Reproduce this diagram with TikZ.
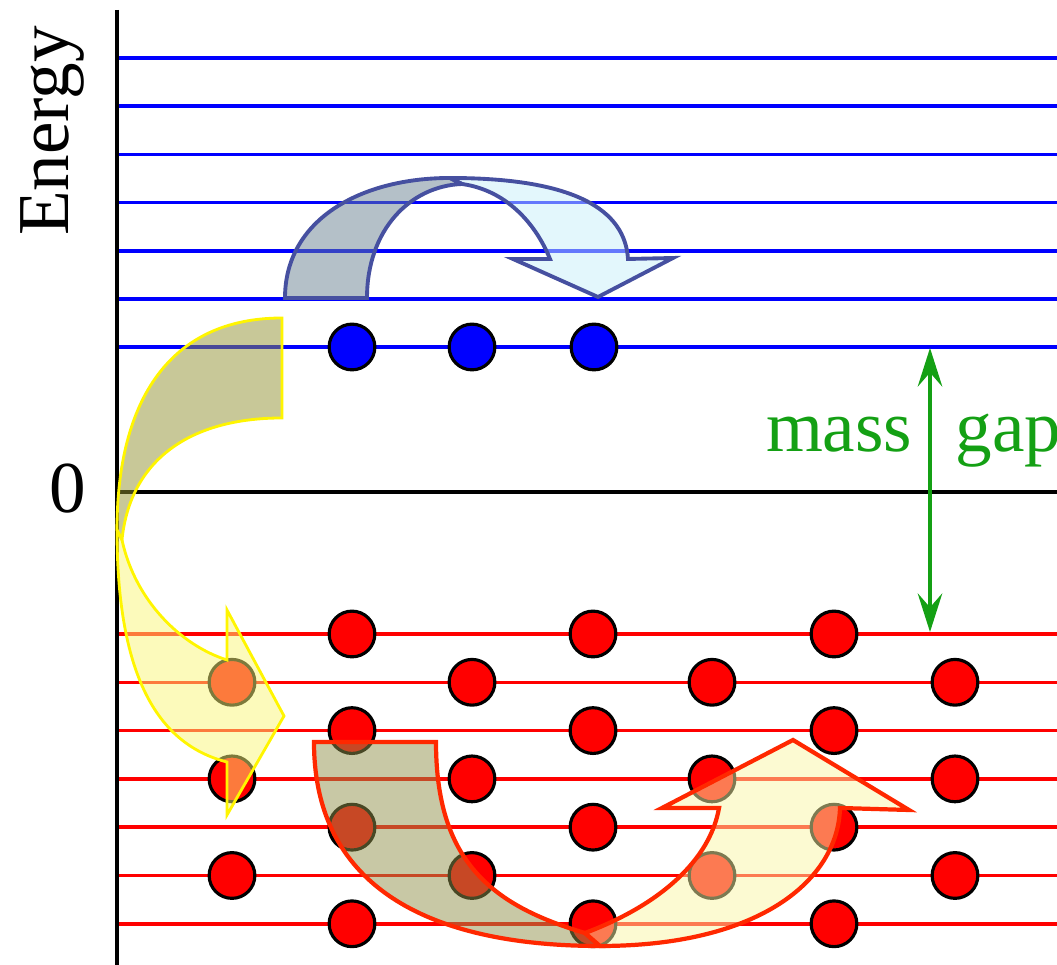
\documentclass[tikz,border=0pt]{standalone}
\usepackage{fontspec}
\setmainfont{Liberation Serif}
\usetikzlibrary{arrows.meta}
\definecolor{levelblue}{RGB}{0,0,255}
\definecolor{levelred}{RGB}{255,0,0}
\definecolor{gapgreen}{RGB}{20,160,20}
\definecolor{bluerim}{RGB}{70,80,160}
\definecolor{bluedark}{RGB}{105,130,145}
\definecolor{bluelight}{RGB}{200,240,250}
\definecolor{yellowrim}{RGB}{255,245,0}
\definecolor{yellowdark}{RGB}{145,145,50}
\definecolor{yellowlight}{RGB}{250,245,120}
\definecolor{redrim}{RGB}{255,40,0}
\definecolor{reddark}{RGB}{145,145,75}
\definecolor{redlight}{RGB}{250,245,165}
\tikzset{
  bluelevel/.style={levelblue,line width=1pt},
  redlevel/.style={levelred,line width=1pt},
  bluedot/.style={fill=levelblue,draw=black,line width=0.9pt},
  reddot/.style={fill=levelred,draw=black,line width=0.9pt},
  bluehop/.style={draw=bluerim,fill opacity=0.5,line width=1.1pt},
  yellowhop/.style={draw=yellowrim,fill opacity=0.5,line width=0.8pt},
  redhop/.style={draw=redrim,fill opacity=0.5,line width=1.2pt},
  bigtext/.style={font=\fontsize{20.8}{25}\selectfont,inner sep=0pt}
}
\begin{document}
\begin{tikzpicture}[x=0.01cm,y=-0.01cm]
    \useasboundingbox (0,0) rectangle (1057,965);
    \foreach \k in {0,...,6}
      \draw[bluelevel] (117,{58+48.2*\k}) -- (1057,{58+48.2*\k});
    \draw[black,line width=1.1pt] (117,492) -- (1057,492);
    \foreach \k in {0,...,6}
      \draw[redlevel] (117,{634+48.3*\k}) -- (1057,{634+48.3*\k});
    \foreach \x in {352,472,594}
      \filldraw[bluedot] (\x,347) circle (6.5pt);
    \foreach \k in {0,2,4,6}
      \foreach \x in {352,593,834}
        \filldraw[reddot] (\x,{634+48.3*\k}) circle (6.5pt);
    \foreach \k in {1,3,5}
      \foreach \x in {232,472,712,955}
        \filldraw[reddot] (\x,{634+48.3*\k}) circle (6.5pt);
    \draw[black,line width=1.2pt] (117,10) -- (117,965);
    \filldraw[bluehop,fill=bluelight] (450,178) .. controls (575,178) and (625,210) .. (628,259)
      -- (673,258) -- (598,297) -- (513,259) -- (550,259)
      .. controls (535,222) and (505,190) .. (462,184) -- cycle;
    \filldraw[bluehop,fill=bluedark] (285,298) .. controls (285,220) and (360,178) .. (450,178)
      -- (462,184) .. controls (410,186) and (367,230) .. (367,298) -- cycle;
    \filldraw[yellowhop,fill=yellowdark] (282,318) -- (282,418)
      .. controls (190,418) and (130,460) .. (122,540) -- (117,530)
      .. controls (117,400) and (170,318) .. (282,318) -- cycle;
    \filldraw[yellowhop,fill=yellowlight] (122,540) .. controls (135,600) and (180,645) .. (227,660)
      -- (227,610) -- (284,716) -- (227,815) -- (227,762)
      .. controls (160,745) and (117,680) .. (117,530) -- cycle;
    \filldraw[redhop,fill=reddark] (314,742) -- (436,742)
      .. controls (436,860) and (490,905) .. (585,933) -- (600,946)
      .. controls (450,946) and (314,900) .. (314,742) -- cycle;
    \filldraw[redhop,fill=redlight] (585,933) .. controls (660,905) and (710,860) .. (719,808)
      -- (662,808) -- (793,740) -- (909,810) -- (840,808)
      .. controls (838,880) and (760,946) .. (600,946) -- cycle;
    \coordinate (gaptop) at (930,348);
    \coordinate (gapbot) at (930,632);
    \draw[gapgreen,line width=0.9pt,{Stealth[length=11pt,width=7pt,inset=4pt]}-{Stealth[length=11pt,width=7pt,inset=4pt]}] (gaptop) -- (gapbot);
    \node[bigtext,gapgreen,anchor=base east] (mass) at (913,452) {mass};
    \node[bigtext,gapgreen,anchor=base west] (gap) at (955,452) {gap};
    \node[bigtext,rotate=90,anchor=base] (energy) at (68,131) {Energy};
    \node[bigtext] (zero) at (68,489) {0};
\end{tikzpicture}
\end{document}
